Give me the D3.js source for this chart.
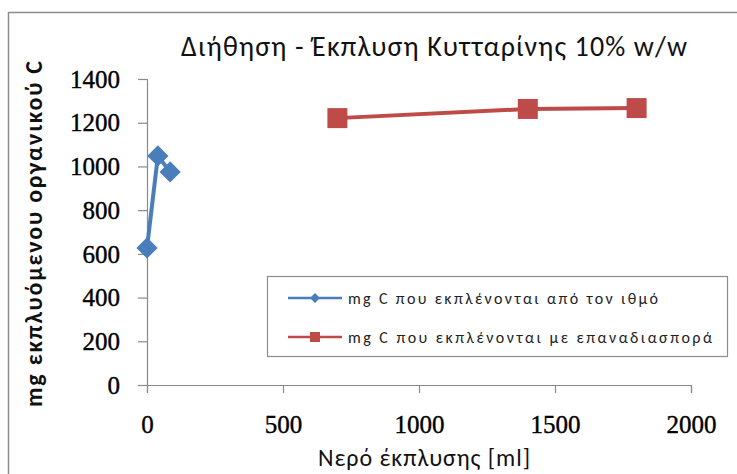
<!DOCTYPE html>
<html>
<head>
<meta charset="utf-8">
<script src="https://cdn.jsdelivr.net/npm/d3@7"></script>
<style>
  html, body { margin: 0; padding: 0; background: #fff; }
  svg { display: block; }
</style>
</head>
<body>
<script>
// Wash-water volume (ml) and organic carbon eluted (mg C)
const bedX = [0, 40, 85];
const bedY = [627, 1048, 975];
const redispX = [700, 1400, 1800];
const redispY = [1221, 1263, 1267];

const xTicks = [0, 500, 1000, 1500, 2000];
const yTicks = [0, 200, 400, 600, 800, 1000, 1200, 1400];

const seriesNames = [
  "mg C που εκπλένονται από τον ιθμό",
  "mg C που εκπλένονται με επαναδιασπορά"
];
const titleText = "Διήθηση - Έκπλυση Κυτταρίνης  10% w/w";
const xTitle = "Νερό έκπλυσης [ml]";
const yTitle = "mg εκπλυόμενου οργανικού C";

const W = 737, H = 474;
const svg = d3.select("body").append("svg").attr("width", W).attr("height", H);

// chart frame
svg.append("rect")
  .attr("x", 8.5).attr("y", 12.5).attr("width", 740).attr("height", 480)
  .attr("fill", "#fff").attr("stroke", "#8c8c8c").attr("stroke-width", 1.5);

const x = d3.scaleLinear().domain([0, 2000]).range([147, 691]);
const y = d3.scaleLinear().domain([0, 1400]).range([385, 79]);

const axisColor = "#8a8a8a";
const tickFont = "'Liberation Serif', 'Times New Roman', serif";

// y axis
const gy = svg.append("g").attr("transform", "translate(147,0)")
  .call(d3.axisLeft(y).tickValues(yTicks).tickSize(9).tickPadding(18).tickFormat(d3.format("d")));
gy.select(".domain").attr("stroke", axisColor).attr("stroke-width", 1.2);
gy.selectAll(".tick line").attr("stroke", axisColor).attr("stroke-width", 1.2);
gy.selectAll(".tick text").attr("font-family", tickFont).attr("font-size", 25)
  .attr("fill", "#000").attr("stroke", "#000").attr("stroke-width", 0.4).attr("dy", "0.33em");

// x axis
const gx = svg.append("g").attr("transform", "translate(0,385)")
  .call(d3.axisBottom(x).tickValues(xTicks).tickSize(8).tickPadding(22).tickFormat(d3.format("d")));
gx.select(".domain").attr("stroke", axisColor).attr("stroke-width", 1.2);
gx.selectAll(".tick line").attr("stroke", axisColor).attr("stroke-width", 1.2);
gx.selectAll(".tick text").attr("font-family", tickFont).attr("font-size", 25)
  .attr("fill", "#000").attr("stroke", "#000").attr("stroke-width", 0.4);

// titles
const sans = "Carlito, 'Open Sans', 'Liberation Sans', sans-serif";
svg.append("text").attr("x", 434).attr("y", 56).attr("text-anchor", "middle")
  .attr("font-family", sans).attr("font-size", 28).attr("fill", "#111")
  .attr("textLength", 506).attr("lengthAdjust", "spacing").text(titleText);

svg.append("text").attr("x", 424).attr("y", 466).attr("text-anchor", "middle")
  .attr("font-family", sans).attr("font-size", 24).attr("fill", "#111")
  .attr("textLength", 212).attr("lengthAdjust", "spacing").text(xTitle);

svg.append("text").attr("transform", "translate(42,234) rotate(-90)").attr("text-anchor", "middle")
  .attr("font-family", sans).attr("font-size", 24).attr("font-weight", "bold").attr("fill", "#111")
  .attr("textLength", 346).attr("lengthAdjust", "spacing").text(yTitle);

const blue = "#4a7ebb", red = "#be4b48";
const line = d3.line().x(d => x(d[0])).y(d => y(d[1]));

const bedPts = bedX.map((v, i) => [v, bedY[i]]);
const redPts = redispX.map((v, i) => [v, redispY[i]]);

svg.append("path").datum(bedPts).attr("d", line).attr("fill", "none")
  .attr("stroke", blue).attr("stroke-width", 4);
svg.append("g").selectAll("rect").data(bedPts).join("rect")
  .attr("x", -7.5).attr("y", -7.5).attr("width", 15).attr("height", 15)
  .attr("transform", d => `translate(${x(d[0])},${y(d[1])}) rotate(45)`)
  .attr("fill", blue);

svg.append("path").datum(redPts).attr("d", line).attr("fill", "none")
  .attr("stroke", red).attr("stroke-width", 4);
svg.append("g").selectAll("rect").data(redPts).join("rect")
  .attr("x", d => x(d[0]) - 10).attr("y", d => y(d[1]) - 10)
  .attr("width", 20).attr("height", 20).attr("fill", red);

// legend
const lg = svg.append("g");
lg.append("rect").attr("x", 267.5).attr("y", 276.5).attr("width", 460).attr("height", 80)
  .attr("fill", "#fff").attr("stroke", "#8c8c8c").attr("stroke-width", 1.2);
const rows = [
  { name: seriesNames[0], color: blue, shape: "diamond", y: 298, len: 310 },
  { name: seriesNames[1], color: red, shape: "square", y: 337, len: 364 }
];
rows.forEach(r => {
  lg.append("line").attr("x1", 288).attr("x2", 342).attr("y1", r.y).attr("y2", r.y)
    .attr("stroke", r.color).attr("stroke-width", 2.5);
  if (r.shape === "diamond") {
    lg.append("rect").attr("x", -3.5).attr("y", -3.5).attr("width", 7).attr("height", 7)
      .attr("transform", `translate(315,${r.y}) rotate(45)`).attr("fill", r.color);
  } else {
    lg.append("rect").attr("x", 310).attr("y", r.y - 5).attr("width", 10).attr("height", 10).attr("fill", r.color);
  }
  lg.append("text").attr("x", 348).attr("y", r.y).attr("dy", "0.35em")
    .attr("font-family", sans).attr("font-size", 16).attr("fill", "#222")
    .attr("textLength", r.len).attr("lengthAdjust", "spacing")
    .text(r.name);
});
</script>
</body>
</html>
